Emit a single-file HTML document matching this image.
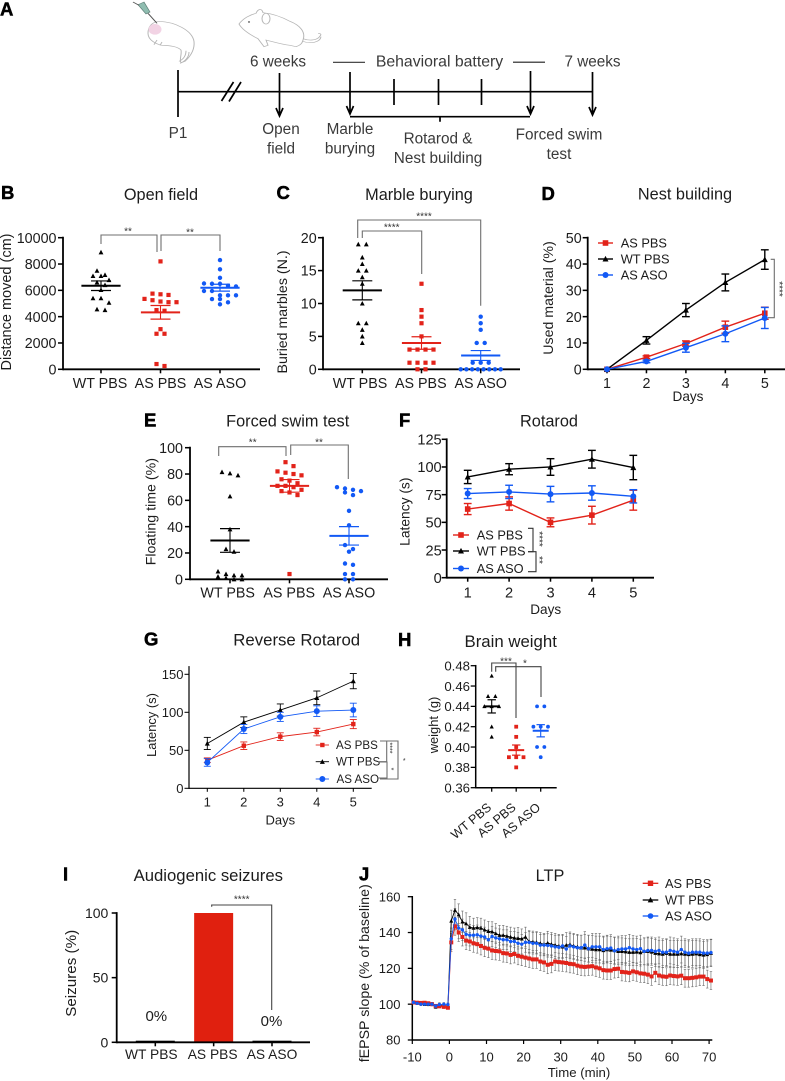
<!DOCTYPE html>
<html lang="en">
<head>
<meta charset="utf-8">
<title>AS ASO behavioral figure</title>
<style>
html,body{margin:0;padding:0;background:#fff;}
svg{display:block;font-family:"Liberation Sans",Arial,sans-serif;filter:blur(.3px);}
text{fill:#1c1c1c;}
.letter{font-weight:700;font-size:18.5px;fill:#000;stroke:#000;stroke-width:.5px;}
.title{font-size:16.3px;text-anchor:middle;}
.ytitle{font-size:14.2px;text-anchor:middle;}
.xtitle{font-size:13.6px;text-anchor:middle;}
.star{font-size:10px;text-anchor:middle;fill:#333;}
.legend{font-size:12.8px;}
.bracket{fill:none;stroke:#6f6f6f;stroke-width:1.1px;}
.tl{font-size:15.3px;text-anchor:middle;fill:#3a3a3a;}
.tline{fill:none;stroke:#000;stroke-width:1.7px;}
</style>
</head>
<body>
<svg id="figure" width="785" height="1081" viewBox="0 0 785 1081" xmlns="http://www.w3.org/2000/svg">
<rect width="785" height="1081" fill="#fff"/>

<g id="panel-a">
  <text class="letter" x="0" y="15.500">A</text>
  <g transform="scale(1 .667)">
    <path d="M159 32C175 33 192 45 194 62C195 75 190 85 185 92L181 94C179 90 182 82 181 75C178 70 170 68 162 68C156 66 148 60 148 50C148 40 152 33 159 32Z" fill="#fff" stroke="#b5b5b5" stroke-width="1"/>
    <ellipse cx="155" cy="44" rx="6.5" ry="8" fill="#f2d3e4"/>
    <path d="M157 60l-3 7M162 63l-2 5M189 78C189 86 185 92 180 95M186 76C186 84 183 89 179 92" fill="none" stroke="#b5b5b5" stroke-width="1"/>
    <path d="M138 7L144 3L150 18L146 21Z" fill="#8fbdb0" stroke="#5f7f78" stroke-width=".8"/>
    <path d="M133 3L139 8M148 20L157 35" fill="none" stroke="#555" stroke-width="1.2"/>
  </g>
  <g transform="scale(1 .667)">
    <path d="M239 36C243 28 250 22 256 20C258 13 262 12 263 19C270 20 280 24 290 32C300 38 306 48 303 60C302 66 300 68 296 70L290 68C280 66 272 62 266 60L268 68L264 70L258 58C250 52 242 44 239 36Z" fill="#fff" stroke="#b5b5b5" stroke-width="1"/>
    <ellipse cx="266" cy="28" rx="4" ry="8" fill="#fff" stroke="#b5b5b5" stroke-width="1"/>
    <circle cx="249" cy="33" r="1.1" fill="#555"/>
    <path d="M303 58C310 62 318 60 320 54C322 51 320 50 318 50M303 62C310 66 320 64 321 55" fill="none" stroke="#b5b5b5" stroke-width="1"/>
  </g>
  <path class="tline" d="M178 91.700H592"/>
  <path class="tline" d="M178 70V117"/>
  <path class="tline" d="M221.500 101L233.500 82M229 101.500L241 82"/>
  <path class="tline" d="M394 79V105M438.500 79V105M481.500 79V105"/>
  <path class="tline" d="M279.500 73V115M276 108L279.500 116L283 108"/>
  <path class="tline" d="M350 72V113M346.500 106L350 114L353.500 106"/>
  <path class="tline" d="M530.500 71V113M527 106L530.500 114L534 106"/>
  <path class="tline" d="M592.500 72V114M589 107L592.500 115L596 107"/>
  <path class="tline" d="M350 116.700H530M440 116.700V121.700"/>
  <path d="M333 62.300H365" stroke="#333" stroke-width="1.2" fill="none"/>
  <path d="M513 62.300H545" stroke="#555" stroke-width="1.5" fill="none"/>
  <text class="tl" x="278" y="66.500">6 weeks</text>
  <text class="tl" x="439.500" y="66.500" style="font-size:15.8px">Behavioral battery</text>
  <text class="tl" x="592.500" y="66.500">7 weeks</text>
  <text class="tl" x="178" y="138">P1</text>
  <text class="tl"><tspan x="281" y="134">Open</tspan><tspan x="281" y="153.500">field</tspan></text>
  <text class="tl"><tspan x="350" y="134">Marble</tspan><tspan x="350" y="153.500">burying</tspan></text>
  <text class="tl"><tspan x="438" y="143.500">Rotarod &amp;</tspan><tspan x="438" y="163">Nest building</tspan></text>
  <text class="tl"><tspan x="559" y="139.500">Forced swim</tspan><tspan x="559" y="159">test</tspan></text>
</g>

<g id="panel-b">
  <text class="letter" x="1" y="199">B</text>
  <text class="title" x="161" y="200">Open field</text>
  <text class="ytitle" transform="translate(11 302) rotate(-90)" style="font-size:14.5px">Distance moved (cm)</text>
  <path class="bracket" d="M101 244V235H157V252"/>
  <path class="bracket" d="M161 251V235H220V251"/>
  <text class="star" x="128" y="234.700">**</text>
  <text class="star" x="190" y="235.700">**</text>
</g>

<g id="panel-c">
  <text class="letter" x="276.500" y="199">C</text>
  <text class="title" x="419" y="200">Marble burying</text>
  <text class="ytitle" transform="translate(287 312) rotate(-90)">Buried marbles (N.)</text>
  <path class="bracket" d="M362.300 238V231H421.700V274"/>
  <path class="bracket" d="M357.700 238V220H480.700V305.700"/>
  <text class="star" x="391.700" y="230.700">****</text>
  <text class="star" x="424" y="219.700">****</text>
</g>

<g id="panel-d">
  <text class="letter" x="541.500" y="200">D</text>
  <text class="title" x="685" y="199.500">Nest building</text>
  <text class="ytitle" transform="translate(553 298) rotate(-90)">Used material (%)</text>
  <text class="xtitle" x="688" y="401">Days</text>
  <text class="legend" x="620.700" y="247.500">AS PBS</text>
  <text class="legend" x="620.700" y="263.500">WT PBS</text>
  <text class="legend" x="620.700" y="279.500">AS ASO</text>
  <path class="bracket" d="M770.700 259.300H774.300V317.700H768"/>
  <text class="star" transform="translate(775.800 289) rotate(90)">****</text>
</g>

<g id="panel-e">
  <text class="letter" x="144" y="426.700">E</text>
  <text class="title" x="287.700" y="426.700">Forced swim test</text>
  <text class="ytitle" transform="translate(155.700 511.700) rotate(-90)">Floating time (%)</text>
  <path class="bracket" d="M218.700 456V446.700H286V456"/>
  <path class="bracket" d="M290.700 455V445H348.300V479"/>
  <text class="star" x="252.700" y="445.700">**</text>
  <text class="star" x="319" y="445.700">**</text>
</g>

<g id="panel-f">
  <text class="letter" x="399" y="426.700">F</text>
  <text class="title" x="549" y="426.700">Rotarod</text>
  <text class="ytitle" transform="translate(409.500 511.700) rotate(-90)" style="font-size:13.8px">Latency (s)</text>
  <text class="xtitle" x="545.700" y="614">Days</text>
  <text class="legend" x="476.700" y="539.700">AS PBS</text>
  <text class="legend" x="476.700" y="555.700">WT PBS</text>
  <text class="legend" x="476.700" y="573">AS ASO</text>
  <path class="bracket" d="M528 528.300H533V551.700H528" style="stroke:#333"/>
  <path class="bracket" d="M528 551.700H536V571.700H528" style="stroke:#333"/>
  <text class="star" transform="translate(536 539) rotate(90)">****</text>
  <text class="star" transform="translate(536 560) rotate(90)">**</text>
</g>

<g id="panel-g">
  <text class="letter" x="144" y="645.700">G</text>
  <text class="title" x="296.700" y="645.700" style="font-size:16.8px">Reverse Rotarod</text>
  <text class="ytitle" transform="translate(156 725) rotate(-90)" style="font-size:12.9px">Latency (s)</text>
  <text class="xtitle" x="280.300" y="824.400" style="font-size:13px">Days</text>
  <text class="legend" x="336" y="749" style="font-size:11.6px">AS PBS</text>
  <text class="legend" x="336" y="765.700" style="font-size:11.6px">WT PBS</text>
  <text class="legend" x="336.500" y="783" style="font-size:11.6px">AS ASO</text>
  <path class="bracket" d="M380 741H386.700V761.700H378"/>
  <path class="bracket" d="M378 762H387V778H378"/>
  <path class="bracket" d="M380 741H398V779H380"/>
  <text class="star" transform="translate(387.500 748) rotate(90)" style="font-size:7px">****</text>
  <text class="star" transform="translate(389 769) rotate(90)" style="font-size:7px">*</text>
  <text class="star" x="404.300" y="763" style="font-size:7px">*</text>
</g>

<g id="panel-h">
  <text class="letter" x="398" y="646">H</text>
  <text class="title" x="510.700" y="647" style="font-size:16.8px">Brain weight</text>
  <text class="ytitle" transform="translate(438 725) rotate(-90)" style="font-size:12.9px">weight (g)</text>
  <path class="bracket" d="M491.700 671.700V663H516V718" style="stroke:#444"/>
  <path class="bracket" d="M495.700 671.700V666.700H541V697" style="stroke:#444"/>
  <text class="star" x="506" y="664.700">***</text>
  <text class="star" x="525" y="666.400">*</text>
</g>

<g id="panel-i">
  <text class="letter" x="63" y="880.700">I</text>
  <text class="title" x="208.300" y="881" style="font-size:16.7px">Audiogenic seizures</text>
  <text class="ytitle" transform="translate(76 973.300) rotate(-90)" style="font-size:15.2px">Seizures (%)</text>
  <path class="bracket" d="M211.700 906.700V905H271.700V1010" style="stroke:#444"/>
  <text class="star" x="241.700" y="902.400">****</text>
</g>

<g id="panel-j">
  <text class="letter" x="359" y="880.700">J</text>
  <text class="title" x="550" y="881">LTP</text>
  <text class="ytitle" transform="translate(369 973.300) rotate(-90)">fEPSP slope (% of baseline)</text>
  <text class="xtitle" x="579" y="1077" style="font-size:13.2px">Time (min)</text>
  <text class="legend" x="665" y="888">AS PBS</text>
  <text class="legend" x="665" y="904.500">WT PBS</text>
  <text class="legend" x="665" y="920.500">AS ASO</text>
</g>
</svg>

<script>
/* ---------- shared categories ---------- */
const groupLabels = ['WT PBS', 'AS PBS', 'AS ASO'];
const dayLabels = ['1', '2', '3', '4', '5'];

/* ---------- B: open field ---------- */
const openFieldTicks = [0, 2000, 4000, 6000, 8000, 10000];
const openFieldWt = [8890, 7490, 7170, 7090, 7090, 6780, 6600, 6400, 6025, 5400, 5400, 5060, 4560, 4500];
const openFieldPbs = [8200, 5750, 5700, 5650, 5350, 5250, 5150, 5100, 5100, 4500, 4450, 3050, 2700, 2700, 400, 250];
const openFieldAso = [8300, 7600, 6950, 6520, 6500, 6500, 6350, 6300, 5950, 5950, 5620, 5620, 5620, 5340, 5340, 5090, 4940];
const openFieldMeans = [6350, 4330, 6200];
const openFieldSems = [365, 520, 260];

/* ---------- C: marble burying ---------- */
const marbleTicks = [0, 5, 10, 15, 20];
const marbleWt = [19, 19, 17, 16, 15, 15, 14, 13, 10, 7, 7, 6, 5, 4];
const marblePbs = [13, 9, 8, 7, 5, 3, 3, 3, 3, 1, 1, 1, 1, 0, 0];
const marbleAso = [8, 7, 6, 4, 4, 1, 1, 1, 0, 0, 0, 0, 0, 0, 0, 0];
const marbleMeans = [12, 4, 2.1];
const marbleSems = [1.45, 0.95, 0.75];

/* ---------- D: nest building ---------- */
const nestTicks = [0, 10, 20, 30, 40, 50];
const nestWt = [0, 11, 22.5, 33, 41.7];
const nestPbs = [0, 4.6, 9.8, 16, 21.3];
const nestAso = [0, 3, 8.2, 13.5, 19.5];
const nestWtErr = [0, 1.4, 2.5, 3.2, 3.7];
const nestPbsErr = [0, 0.5, 1, 2.3, 2.3];
const nestAsoErr = [0, 0.5, 1.7, 3, 4];

/* ---------- E: forced swim ---------- */
const swimTicks = [0, 20, 40, 60, 80, 100];
const swimWt = [81.5, 80.5, 79, 63, 38, 23, 21, 6, 4, 3, 3, 2, 1, 0, 0];
const swimPbs = [89, 86, 82, 81, 80, 79, 76, 75, 73, 71, 71, 70, 68, 67, 66, 64, 4];
const swimAso = [70, 69, 68, 67, 66, 64, 52, 41, 26, 23, 21, 12, 11, 4, 4, 0, 0];
const swimMeans = [29.5, 71, 33];
const swimSems = [9, 4.8, 7];

/* ---------- F: rotarod ---------- */
const rotarodTicks = [0, 25, 50, 75, 100, 125];
const rotarodWt = [91, 98, 100, 107, 99.5];
const rotarodPbs = [62, 67, 50, 56.5, 70];
const rotarodAso = [76, 77.5, 75.5, 76.5, 73.5];
const rotarodWtErr = [6, 5, 7.5, 8, 11];
const rotarodPbsErr = [5, 6, 4, 8, 9];
const rotarodAsoErr = [4.5, 6, 7, 6.5, 6];

/* ---------- G: reverse rotarod ---------- */
const reverseTicks = [0, 50, 100, 150];
const reverseWt = [59, 87, 103, 119, 141];
const reversePbs = [37, 56, 68, 74, 84.5];
const reverseAso = [34, 78, 94, 101.5, 103];
const reverseWtErr = [8, 7, 8, 9, 10];
const reversePbsErr = [3, 5, 5, 5, 6];
const reverseAsoErr = [5, 6, 6, 7, 9];

/* ---------- H: brain weight ---------- */
const brainTicks = [0.36, 0.38, 0.40, 0.42, 0.44, 0.46, 0.48];
const brainWt = [0.47, 0.45, 0.45, 0.44, 0.44, 0.44, 0.42, 0.41];
const brainPbs = [0.42, 0.41, 0.40, 0.39, 0.39, 0.39, 0.38];
const brainAso = [0.44, 0.44, 0.42, 0.42, 0.42, 0.40, 0.40, 0.39];
const brainMeans = [0.44, 0.397, 0.416];
const brainSems = [0.0065, 0.005, 0.006];

/* ---------- I: audiogenic seizures ---------- */
const seizureTicks = [0, 50, 100];
const seizureValues = [0, 100, 0];
const seizurePrinted = ['0%', '', '0%'];

/* ---------- J: LTP ---------- */
const ltpTicks = [80, 100, 120, 140, 160];
const ltpTimeTicks = [-10, 0, 10, 20, 30, 40, 50, 60, 70];
const ltpMinutes = [-9.7, -8.7, -7.7, -6.7, -5.7, -4.7, -3.7, -2.7, -1.5, -0.4,
  0.5, 1.5, 2.5, 3.5, 4.5, 5.5, 6.5, 7.5, 8.5, 9.5,
  10.5, 11.5, 12.5, 13.5, 14.5, 15.5, 16.5, 17.5, 18.5, 19.5,
  20.5, 21.5, 22.5, 23.5, 24.5, 25.5, 26.5, 27.5, 28.5, 29.5,
  30.5, 31.5, 32.5, 33.5, 34.5, 35.5, 36.5, 37.5, 38.5, 39.5,
  40.5, 41.5, 42.5, 43.5, 44.5, 45.5, 46.5, 47.5, 48.5, 49.5,
  50.5, 51.5, 52.5, 53.5, 54.5, 55.5, 56.5, 57.5, 58.5, 59.5,
  60.5, 61.5, 62.5, 63.5, 64.5, 65.5, 66.5, 67.5, 68.5, 69.5, 70.5];
const ltpPbs = [101, 100.8, 100.7, 100.8, 100.5, 100, 99, 98.8, 98.5, 98,
  134.5, 143.5, 140, 137.5, 135.5, 135, 134, 133.5, 132.5, 131.5,
  131, 130, 129.7, 129.5, 128.5, 128.3, 127.5, 128, 127, 126.5,
  126, 125.5, 125, 125, 123.8, 123.3, 122, 122.5, 123.8, 123.5,
  123.3, 123, 122.5, 122.3, 121.5, 121, 120.8, 121, 121.2, 120.5,
  120, 119, 118.8, 118.8, 119.6, 119.8, 118, 117.8, 117.5, 118.3,
  117.8, 117.2, 117, 116.5, 115.5, 117.5, 116, 115.5, 115.3, 116,
  115.7, 115.5, 115.9, 114.5, 114.5, 114.7, 115, 115.4, 115.4, 114, 113.2];
const ltpWt = [101, 100.8, 100.5, 100, 100, 100, 98.5, 99.8, 99, 99,
  146.5, 152.5, 150, 146, 145, 143, 142.5, 142.8, 142.5, 141.5,
  140.7, 140.5, 139.5, 138.5, 138.5, 138, 137.5, 137, 136.8, 136.5,
  137.5, 135, 134.8, 134.5, 134, 133.5, 134.2, 133.5, 133, 132.5,
  132, 133, 133.3, 132.5, 132, 131.5, 131.5, 131, 130.8, 130.5,
  130.5, 130, 130.5, 130.3, 130, 129.5, 129.5, 129.3, 129, 129,
  129.2, 128.8, 129.5, 129.5, 129.2, 128.5, 128.2, 128, 128.5, 128,
  128, 128, 128.2, 128, 127.8, 128, 128.2, 127.8, 127.5, 127.8, 128.5];
const ltpAso = [101, 100.5, 100, 100, 100, 100, 99, 99.8, 100, 99.8,
  136.5, 147.5, 142.5, 141.5, 139, 138.5, 138.5, 138.7, 138, 137.5,
  136, 137.8, 137, 136.5, 136, 136, 135, 135, 134, 133.5,
  134.5, 134.5, 134, 134, 133, 133, 132.8, 132.5, 132, 131.8,
  132.5, 130.8, 132.5, 132, 131.5, 131.5, 133, 131, 132, 132,
  132, 130.5, 131, 131.3, 129.8, 130.5, 130.8, 130.8, 131.5, 130.8,
  130.5, 131, 129.5, 130, 130, 129.5, 130, 129, 129, 130,
  129.5, 129, 130.5, 129, 128.5, 129, 129, 129, 128.5, 128.5, 128.8];
const ltpWtErr = [0.8, 0.8, 0.8, 0.8, 0.9, 0.9, 0.9, 0.9, 0.9, 0.9,
  6, 6, 6, 6, 6, 6, 5.5, 5.5, 5.5, 5.5,
  5.5, 5.5, 5.5, 5.5, 5.5, 5.5, 5.5, 5.5, 6, 5.5,
  5.5, 6, 6, 6, 6, 6, 6.5, 6.5, 6.5, 6.5,
  6.5, 7, 7, 7, 7, 7, 7.5, 7.5, 7.5, 7.5,
  7.5, 7.5, 7.5, 7.5, 7.5, 7.5, 7.5, 7.5, 7.5, 7.5,
  7.5, 7.5, 7.5, 7.5, 7.5, 7.5, 7.5, 7.5, 7.5, 7.5,
  7.5, 7.5, 7.5, 7.5, 7.5, 7.5, 7.5, 7.5, 7.5, 7.5, 7.5];
const ltpPbsErr = [0.8, 0.8, 0.8, 0.8, 0.8, 0.8, 0.8, 0.8, 0.8, 0.8,
  5, 5, 5, 5, 5, 5, 5, 5, 5, 5,
  5, 5, 5, 5, 5, 5, 5, 5, 5, 5,
  5, 5, 5, 5, 5, 5, 5, 5, 5, 5,
  5, 5, 5, 5, 5, 5, 5, 5, 5, 5,
  5, 5, 5, 5, 5, 5, 5, 5, 5, 5,
  5, 5, 5, 5, 5, 5, 5, 5, 5, 5,
  5, 5, 5, 5, 5, 5, 5, 5, 5, 5, 5];

const NS = 'http://www.w3.org/2000/svg';
const RED = '#e2231a';
const BLACK = '#000000';
const BLUE = '#1259f5';

function el(tag, attrs, parent, name) {
  const node = document.createElementNS(NS, tag);
  for (const key in attrs) node.setAttribute(key, attrs[key]);
  
  
  parent.appendChild(node);
  return node;
}

function label(parent, name, text, x, y, size, anchor, transform) {
  const attrs = { x: x, y: y + size * 0.36, 'font-size': size, 'text-anchor': anchor };
  if (transform) attrs.transform = transform;
  const node = el('text', attrs, parent, name);
  node.textContent = text;
  return node;
}

function yScaleOf(f) {
  return function (v) { return f.bottom - (v - f.yMin) / (f.yMax - f.yMin) * (f.bottom - f.top); };
}

function categoryX(f) {
  return function (i) { return f.xStart + i * f.xStep; };
}

function marker(parent, name, shape, cx, cy, size, color) {
  const h = size / 2;
  if (shape === 'square') {
    return el('rect', { x: cx - h, y: cy - h, width: size, height: size, fill: color }, parent, name);
  }
  if (shape === 'triangle') {
    const pts = (cx - h) + ',' + (cy + h * 0.85) + ' ' + (cx + h) + ',' + (cy + h * 0.85) + ' ' + cx + ',' + (cy - h * 1.05);
    return el('polygon', { points: pts, fill: color }, parent, name);
  }
  return el('circle', { cx: cx, cy: cy, r: h, fill: color }, parent, name);
}

function drawAxes(parent, f, yTicks, yFormat, xLabels) {
  const y = yScaleOf(f);
  const sw = f.axisWidth || 1.8;
  const axisTop = f.axisTop === undefined ? f.top : f.axisTop;
  el('line', { x1: f.left, x2: f.left, y1: axisTop - sw / 2, y2: f.bottom + sw / 2, stroke: '#000', 'stroke-width': sw }, parent, 'y-axis');
  el('line', { x1: f.left, x2: f.right, y1: f.bottom, y2: f.bottom, stroke: '#000', 'stroke-width': sw }, parent, 'x-axis');
  yTicks.forEach(function (t) {
    el('line', { x1: f.left - f.tick, x2: f.left, y1: y(t), y2: y(t), stroke: '#000', 'stroke-width': sw * 0.85 }, parent, 'y-tick');
    label(parent, 'y-tick-label', yFormat(t), f.yLabelRight, y(t), f.yFont, 'end');
  });
  if (!xLabels) return;
  const x = categoryX(f);
  xLabels.forEach(function (text, i) {
    el('line', { x1: x(i), x2: x(i), y1: f.bottom, y2: f.bottom + f.tick - 1, stroke: '#000', 'stroke-width': sw * 0.85 }, parent, 'x-tick');
    if (f.rotateLabels) {
      const attrs = { 'font-size': f.xFont, 'text-anchor': 'end', transform: 'translate(' + (x(i) + 0.5) + ' ' + (f.bottom + 21) + ') rotate(-40)' };
      const node = el('text', attrs, parent, 'x-tick-label');
      node.textContent = text;
    } else {
      const shift = f.labelShift ? f.labelShift[i] : 0;
      label(parent, 'x-tick-label', text, x(i) + shift, f.xLabelY, f.xFont, 'middle');
    }
  });
}

/* Prism-like column scatter: values in one vertical cluster are centred around the category */
function swarmOffsets(values, y, binPx, step, maxWidth) {
  const order = values.map(function (v, i) { return i; }).sort(function (a, b) { return y(values[a]) - y(values[b]); });
  const clusters = [];
  order.forEach(function (id) {
    const last = clusters[clusters.length - 1];
    if (last && y(values[id]) - y(values[last[0]]) <= binPx) last.push(id);
    else clusters.push([id]);
  });
  const offsets = new Array(values.length).fill(0);
  clusters.forEach(function (ids) {
    const n = ids.length;
    const s = n > 1 ? Math.min(step, maxWidth / (n - 1)) : 0;
    ids.forEach(function (id, j) { offsets[id] = (j - (n - 1) / 2) * s; });
  });
  return offsets;
}

function dotPlot(panelId, f, yTicks, yFormat, series, means, sems, look) {
  const parent = document.getElementById(panelId);
  const y = yScaleOf(f);
  const x = categoryX(f);
  drawAxes(parent, f, yTicks, yFormat, groupLabels);
  series.forEach(function (s, i) {
    const off = swarmOffsets(s.values, y, look.binPx, look.step, look.maxWidth);
    s.values.forEach(function (v, k) {
      marker(parent, 'point-' + s.key, s.shape, x(i) + off[k], y(v), look[s.shape], s.color);
    });
    el('line', { x1: x(i) - look.meanHalf, x2: x(i) + look.meanHalf, y1: y(means[i]), y2: y(means[i]), stroke: s.color, 'stroke-width': 2 }, parent, 'mean-line-' + s.key);
    el('line', { x1: x(i), x2: x(i), y1: y(means[i] + sems[i]), y2: y(means[i] - sems[i]), stroke: s.color, 'stroke-width': 1.1 }, parent, 'error-bar-' + s.key);
    [means[i] + sems[i], means[i] - sems[i]].forEach(function (cap) {
      el('line', { x1: x(i) - look.capHalf, x2: x(i) + look.capHalf, y1: y(cap), y2: y(cap), stroke: s.color, 'stroke-width': 1.2 }, parent, 'error-cap-' + s.key);
    });
  });
}

function linePlot(panelId, f, yTicks, series, look) {
  const parent = document.getElementById(panelId);
  const y = yScaleOf(f);
  const x = categoryX(f);
  drawAxes(parent, f, yTicks, String, dayLabels);
  series.forEach(function (s) {
    s.values.forEach(function (v, i) {
      if (!s.err[i]) return;
      el('line', { x1: x(i), x2: x(i), y1: y(v + s.err[i]), y2: y(v - s.err[i]), stroke: s.color, 'stroke-width': look.errWidth }, parent, 'error-bar-' + s.key);
      [v + s.err[i], v - s.err[i]].forEach(function (cap) {
        el('line', { x1: x(i) - look.capHalf, x2: x(i) + look.capHalf, y1: y(cap), y2: y(cap), stroke: s.color, 'stroke-width': look.errWidth }, parent, 'error-cap-' + s.key);
      });
    });
    const pts = s.values.map(function (v, i) { return x(i) + ',' + y(v); }).join(' ');
    el('polyline', { points: pts, fill: 'none', stroke: s.color, 'stroke-width': look.lineWidth }, parent, 'line-' + s.key);
    s.values.forEach(function (v, i) {
      marker(parent, 'point-' + s.key, s.shape, x(i), y(v), look[s.shape], s.color);
    });
  });
}

function legendSwatches(panelId, rows, x1, x2, look) {
  const parent = document.getElementById(panelId);
  rows.forEach(function (r) {
    el('line', { x1: x1, x2: x2, y1: r.y, y2: r.y, stroke: r.color, 'stroke-width': look.lineWidth }, parent, 'legend-line-' + r.key);
    marker(parent, 'legend-marker-' + r.key, r.shape, (x1 + x2) / 2, r.y, look[r.shape], r.color);
  });
}

const pbsStyle = { key: 'as-pbs', shape: 'square', color: RED };
const wtStyle = { key: 'wt-pbs', shape: 'triangle', color: BLACK };
const asoStyle = { key: 'as-aso', shape: 'circle', color: BLUE };
function withData(style, values, err) {
  return { key: style.key, shape: style.shape, color: style.color, values: values, err: err };
}
function withRow(style, y) {
  return { key: style.key, shape: style.shape, color: style.color, y: y };
}

const dotLook = { binPx: 4.5, step: 8, maxWidth: 40, meanHalf: 19.6, capHalf: 10, square: 4.2, triangle: 4.8, circle: 4.4 };

dotPlot('panel-b',
  { left: 63, right: 260, bottom: 369.3, top: 237.7, yMin: 0, yMax: 10000, tick: 5, yLabelRight: 56.5, yFont: 14.3, xFont: 14.3, xLabelY: 383, xStart: 101, xStep: 59.5, labelShift: [-1, 0, 0] },
  openFieldTicks, String,
  [withData(wtStyle, openFieldWt), withData(pbsStyle, openFieldPbs), withData(asoStyle, openFieldAso)],
  openFieldMeans, openFieldSems, dotLook);

dotPlot('panel-c',
  { left: 323, right: 520, bottom: 369.3, top: 237.7, yMin: 0, yMax: 20, tick: 5, yLabelRight: 316.7, yFont: 14.3, xFont: 14.3, xLabelY: 383, xStart: 362.3, xStep: 59.2, labelShift: [-2.3, -0.7, 0] },
  marbleTicks, String,
  [withData(wtStyle, marbleWt), withData(pbsStyle, marblePbs), withData(asoStyle, marbleAso)],
  marbleMeans, marbleSems, dotLook);

dotPlot('panel-e',
  { left: 190, right: 388, bottom: 579.3, top: 447.7, yMin: 0, yMax: 100, tick: 5, yLabelRight: 183, yFont: 14.3, xFont: 14.3, xLabelY: 592.5, xStart: 230, xStep: 59.5, labelShift: [-2.3, -0.3, 0] },
  swimTicks, String,
  [withData(wtStyle, swimWt), withData(pbsStyle, swimPbs), withData(asoStyle, swimAso)],
  swimMeans, swimSems, dotLook);

dotPlot('panel-h',
  { left: 475.7, right: 556.7, bottom: 787.7, top: 665.7, yMin: 0.36, yMax: 0.48, axisWidth: 1.5, tick: 5, yLabelRight: 470, yFont: 13.2, xFont: 12.6, rotateLabels: true, xStart: 491.7, xStep: 24.5 },
  brainTicks, function (t) { return t.toFixed(2); },
  [withData(wtStyle, brainWt), withData(pbsStyle, brainPbs), withData(asoStyle, brainAso)],
  brainMeans, brainSems,
  { binPx: 3, step: 7.3, maxWidth: 22, meanHalf: 8, capHalf: 4.2, square: 3.8, triangle: 4.2, circle: 3.8 });

const lineLookThick = { errWidth: 1.4, capHalf: 3.9, lineWidth: 1.4, square: 5.6, triangle: 6, circle: 6 };
const lineLookThin = { errWidth: 0.9, capHalf: 3.5, lineWidth: 0.9, square: 4.4, triangle: 5, circle: 6 };

linePlot('panel-d',
  { left: 587.7, right: 785, bottom: 369.3, top: 237.7, yMin: 0, yMax: 50, tick: 5, yLabelRight: 581.7, yFont: 14.3, xFont: 14.3, xLabelY: 383, xStart: 607, xStep: 39.45 },
  nestTicks,
  [withData(pbsStyle, nestPbs, nestPbsErr), withData(wtStyle, nestWt, nestWtErr), withData(asoStyle, nestAso, nestAsoErr)],
  lineLookThick);
legendSwatches('panel-d', [withRow(pbsStyle, 243), withRow(wtStyle, 259), withRow(asoStyle, 275)], 598, 613, lineLookThick);

linePlot('panel-f',
  { left: 446.7, right: 654, bottom: 577.7, top: 439.3, yMin: 0, yMax: 125, tick: 5, yLabelRight: 441.7, yFont: 14.6, xFont: 14.6, xLabelY: 592.3, xStart: 467.7, xStep: 41.4 },
  rotarodTicks,
  [withData(pbsStyle, rotarodPbs, rotarodPbsErr), withData(wtStyle, rotarodWt, rotarodWtErr), withData(asoStyle, rotarodAso, rotarodAsoErr)],
  lineLookThick);
legendSwatches('panel-f', [withRow(pbsStyle, 535), withRow(wtStyle, 551), withRow(asoStyle, 568.5)], 453, 469, lineLookThick);

linePlot('panel-g',
  { left: 189, right: 371.7, bottom: 788.3, top: 674.3, axisTop: 666.7, yMin: 0, yMax: 150, axisWidth: 1.2, tick: 4.5, yLabelRight: 183.5, yFont: 13, xFont: 13, xLabelY: 801.7, xStart: 207.3, xStep: 36.5 },
  reverseTicks,
  [withData(pbsStyle, reversePbs, reversePbsErr), withData(wtStyle, reverseWt, reverseWtErr), withData(asoStyle, reverseAso, reverseAsoErr)],
  lineLookThin);
legendSwatches('panel-g', [withRow(pbsStyle, 745), withRow(wtStyle, 761.7), withRow(asoStyle, 779)], 315.7, 329, lineLookThin);

/* Panel I */
(function () {
  const parent = document.getElementById('panel-i');
  const f = { left: 116.7, right: 310, bottom: 1042.3, top: 913, yMin: 0, yMax: 100, tick: 5, yLabelRight: 108.3, yFont: 14, xFont: 13.8, xLabelY: 1054, xStart: 155.3, xStep: 58.35, labelShift: [-4, -1, 0] };
  const y = yScaleOf(f);
  const x = categoryX(f);
  const colors = ['#000', '#e0200f', '#000'];
  seizureValues.forEach(function (v, i) {
    const top = y(v);
    el('rect', { x: x(i) - 19.5, y: top - (v ? 0 : 1.6), width: 39, height: f.bottom - top + (v ? 0 : 1.6), fill: colors[i] }, parent, 'bar-' + groupLabels[i].toLowerCase().replace(' ', '-'));
    if (seizurePrinted[i]) {
      label(parent, 'bar-value-label', seizurePrinted[i], x(i) + (i === 0 ? 1 : -0.5), y(v) - (i === 0 ? 26.5 : 21.5), 15, 'middle');
    }
  });
  drawAxes(parent, f, seizureTicks, String, groupLabels);
})();

/* Panel J */
(function () {
  const parent = document.getElementById('panel-j');
  const f = { left: 412.3, right: 712.3, bottom: 1040, top: 896.7, yMin: 80, yMax: 160, tick: 4.5, yLabelRight: 400.5, yFont: 13, axisWidth: 1.5 };
  const y = yScaleOf(f);
  const x = function (m) { return 412.3 + (m + 10) * 3.71; };
  drawAxes(parent, f, ltpTicks, String, null);
  ltpTimeTicks.forEach(function (t) {
    el('line', { x1: x(t), x2: x(t), y1: f.bottom, y2: f.bottom + 4, stroke: '#000', 'stroke-width': 1.2 }, parent, 'x-tick');
    label(parent, 'x-tick-label', String(t), x(t), 1056.7, 13, 'middle');
  });
  const bars = [[ltpWt, ltpWtErr], [ltpAso, ltpWtErr], [ltpPbs, ltpPbsErr]];
  bars.forEach(function (pair) {
    pair[0].forEach(function (v, i) {
      const m = x(ltpMinutes[i]);
      const e = pair[1][i];
      el('line', { x1: m, x2: m, y1: y(v + e), y2: y(v - e), stroke: '#666', 'stroke-width': 0.6 }, parent, 'error-bar');
      el('line', { x1: m - 1.2, x2: m + 1.2, y1: y(v + e), y2: y(v + e), stroke: '#666', 'stroke-width': 0.6 }, parent, 'error-cap');
      el('line', { x1: m - 1.2, x2: m + 1.2, y1: y(v - e), y2: y(v - e), stroke: '#666', 'stroke-width': 0.6 }, parent, 'error-cap');
    });
  });
  const drawn = [
    withData(wtStyle, ltpWt), withData(pbsStyle, ltpPbs), withData(asoStyle, ltpAso)
  ];
  const sizes = { square: 4, triangle: 4, circle: 3.4 };
  drawn.forEach(function (s) {
    const pts = s.values.map(function (v, i) { return x(ltpMinutes[i]) + ',' + y(v); }).join(' ');
    el('polyline', { points: pts, fill: 'none', stroke: s.color, 'stroke-width': 0.9 }, parent, 'line-' + s.key);
    s.values.forEach(function (v, i) {
      marker(parent, 'point-' + s.key, s.shape, x(ltpMinutes[i]), y(v), sizes[s.shape], s.color);
    });
  });
})();
legendSwatches('panel-j', [withRow(pbsStyle, 883.3), withRow(wtStyle, 900), withRow(asoStyle, 916)], 642.7, 658.3, { lineWidth: 1.3, square: 5.4, triangle: 5.6, circle: 5.6 });
</script>
</body>
</html>
